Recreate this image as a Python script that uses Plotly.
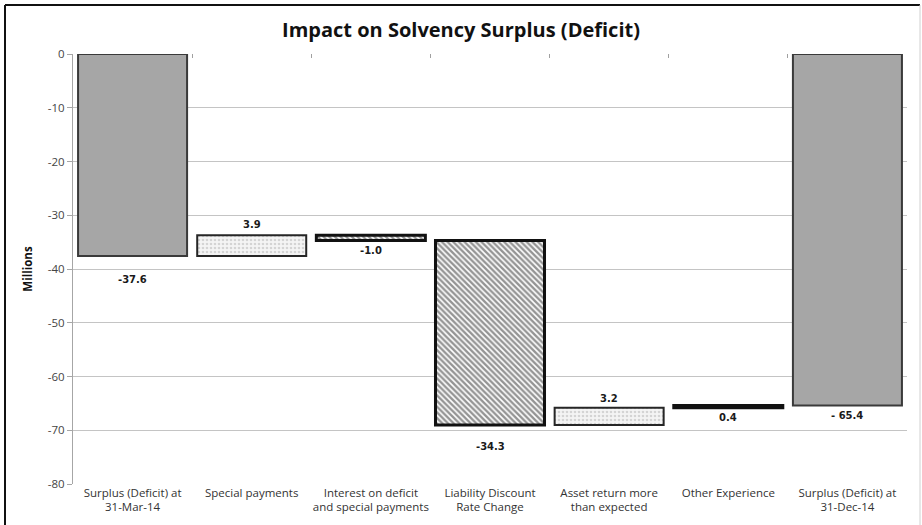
import plotly.graph_objects as go

# Solvency surplus (deficit) walk, in millions
categories = [
    "Surplus (Deficit) at<br>31-Mar-14",
    "Special payments",
    "Interest on deficit<br>and special payments",
    "Liability Discount<br>Rate Change",
    "Asset return more<br>than expected",
    "Other Experience",
    "Surplus (Deficit) at<br>31-Dec-14",
]
values = [-37.6, 3.9, -1.0, -34.3, 3.2, 0.4, -65.4]
measures = ["total", "relative", "relative", "relative", "relative", "relative", "total"]
value_labels = ["-37.6", "3.9", "-1.0", "-34.3", "3.2", "0.4", "- 65.4"]
y_ticks = [0, -10, -20, -30, -40, -50, -60, -70, -80]
y_tick_text = ["0", "-10", "-20", "-30", "-40", "-50", "-60", "-70", "-80"]

# Presentation per bar: fill style and label offset (px, + above / - below)
bar_styles = ["total", "up", "down", "down", "up", "down", "total"]
label_offsets = [-23, 11, -10, -22, 9, -10, -10]

# Running bases for the floating bars
bases, running = [], 0.0
for v, m in zip(values, measures):
    if m == "total":
        bases.append(0.0)
        running = v
    else:
        bases.append(running)
        running += v

STYLE = {
    "total": dict(color="#a6a6a6", line=dict(color="#3a3a3a", width=2)),
    "up": dict(color="#f4f4f4",
               pattern=dict(shape=".", fgcolor="#b4b4b4", bgcolor="#f4f4f4", size=4, solidity=0.35),
               line=dict(color="#262626", width=2)),
    "down": dict(color="#ffffff",
                 pattern=dict(shape="\\", fgcolor="#2a2a2a", bgcolor="#ffffff", size=4, solidity=0.6),
                 line=dict(color="#111111", width=3)),
}

xs = list(range(len(categories)))
fig = go.Figure()
for i, (v, b, s) in enumerate(zip(values, bases, bar_styles)):
    fig.add_trace(go.Bar(
        x=[xs[i]], y=[v], base=[b], width=0.915,
        marker=STYLE[s], showlegend=False, hoverinfo="skip",
    ))

# invisible trace so the top category axis (tick marks at y=0) is drawn
fig.add_trace(go.Scatter(x=xs, y=[None] * len(xs), xaxis="x2", yaxis="y",
                         mode="markers", showlegend=False, hoverinfo="skip"))

annotations = []
for i, (v, b, t, off) in enumerate(zip(values, bases, value_labels, label_offsets)):
    lo, hi = min(b, b + v), max(b, b + v)
    annotations.append(dict(
        x=xs[i], y=hi if off > 0 else lo, xref="x", yref="y",
        text=t, showarrow=False, yshift=off, yanchor="middle",
        font=dict(family="DejaVu Sans", size=10, color="#1a1a1a", weight="bold"),
    ))

fig.update_layout(
    width=922, height=525,
    margin=dict(l=73, r=15, t=54, b=41),
    paper_bgcolor="white", plot_bgcolor="white",
    barmode="overlay",
    title=dict(text="<b>Impact on Solvency Surplus (Deficit)</b>", x=0.5, xanchor="center",
               y=0.943, yanchor="middle",
               font=dict(family="Open Sans", size=20, color="#111111")),
    xaxis=dict(
        range=[-0.5, len(xs) - 0.5], tickvals=xs, ticktext=categories,
        showgrid=False, zeroline=False, showline=False, ticks="",
        tickfont=dict(family="Open Sans", size=11.5, color="#333333"),
    ),
    xaxis2=dict(
        overlaying="x", matches="x", side="top", anchor="y",
        tickvals=[x + 0.5 for x in xs[:-1]], ticks="inside", ticklen=4,
        tickcolor="#a0a0a0", showticklabels=False, showgrid=False,
        zeroline=False, showline=False,
    ),
    yaxis=dict(
        range=[-80, 0], tickvals=y_ticks, ticktext=y_tick_text,
        showgrid=True, gridcolor="#c4c4c4", gridwidth=1,
        zeroline=False, showline=True, linecolor="#a6a6a6", linewidth=1,
        ticks="outside", ticklen=5, tickcolor="#a6a6a6",
        tickfont=dict(family="Open Sans", size=11.5, color="#444444"),
        title=dict(text="<b>Millions</b>", standoff=12,
                   font=dict(family="Open Sans", size=11.5, color="#111111")),
    ),
    annotations=annotations,
    shapes=[
        dict(type="line", xref="paper", yref="paper", x0=(5 - 73) / 834, x1=(5 - 73) / 834,
             y0=-0.12, y1=479 / 430, line=dict(color="#111111", width=2)),
        dict(type="line", xref="paper", yref="paper", x0=(5 - 73) / 834, x1=(920 - 73) / 834,
             y0=479 / 430, y1=479 / 430, line=dict(color="#111111", width=2)),
        dict(type="line", xref="paper", yref="paper", x0=(920 - 73) / 834, x1=(920 - 73) / 834,
             y0=-0.12, y1=479 / 430, line=dict(color="#d0d0d0", width=1)),
    ],
)

fig.write_html("out.html")
